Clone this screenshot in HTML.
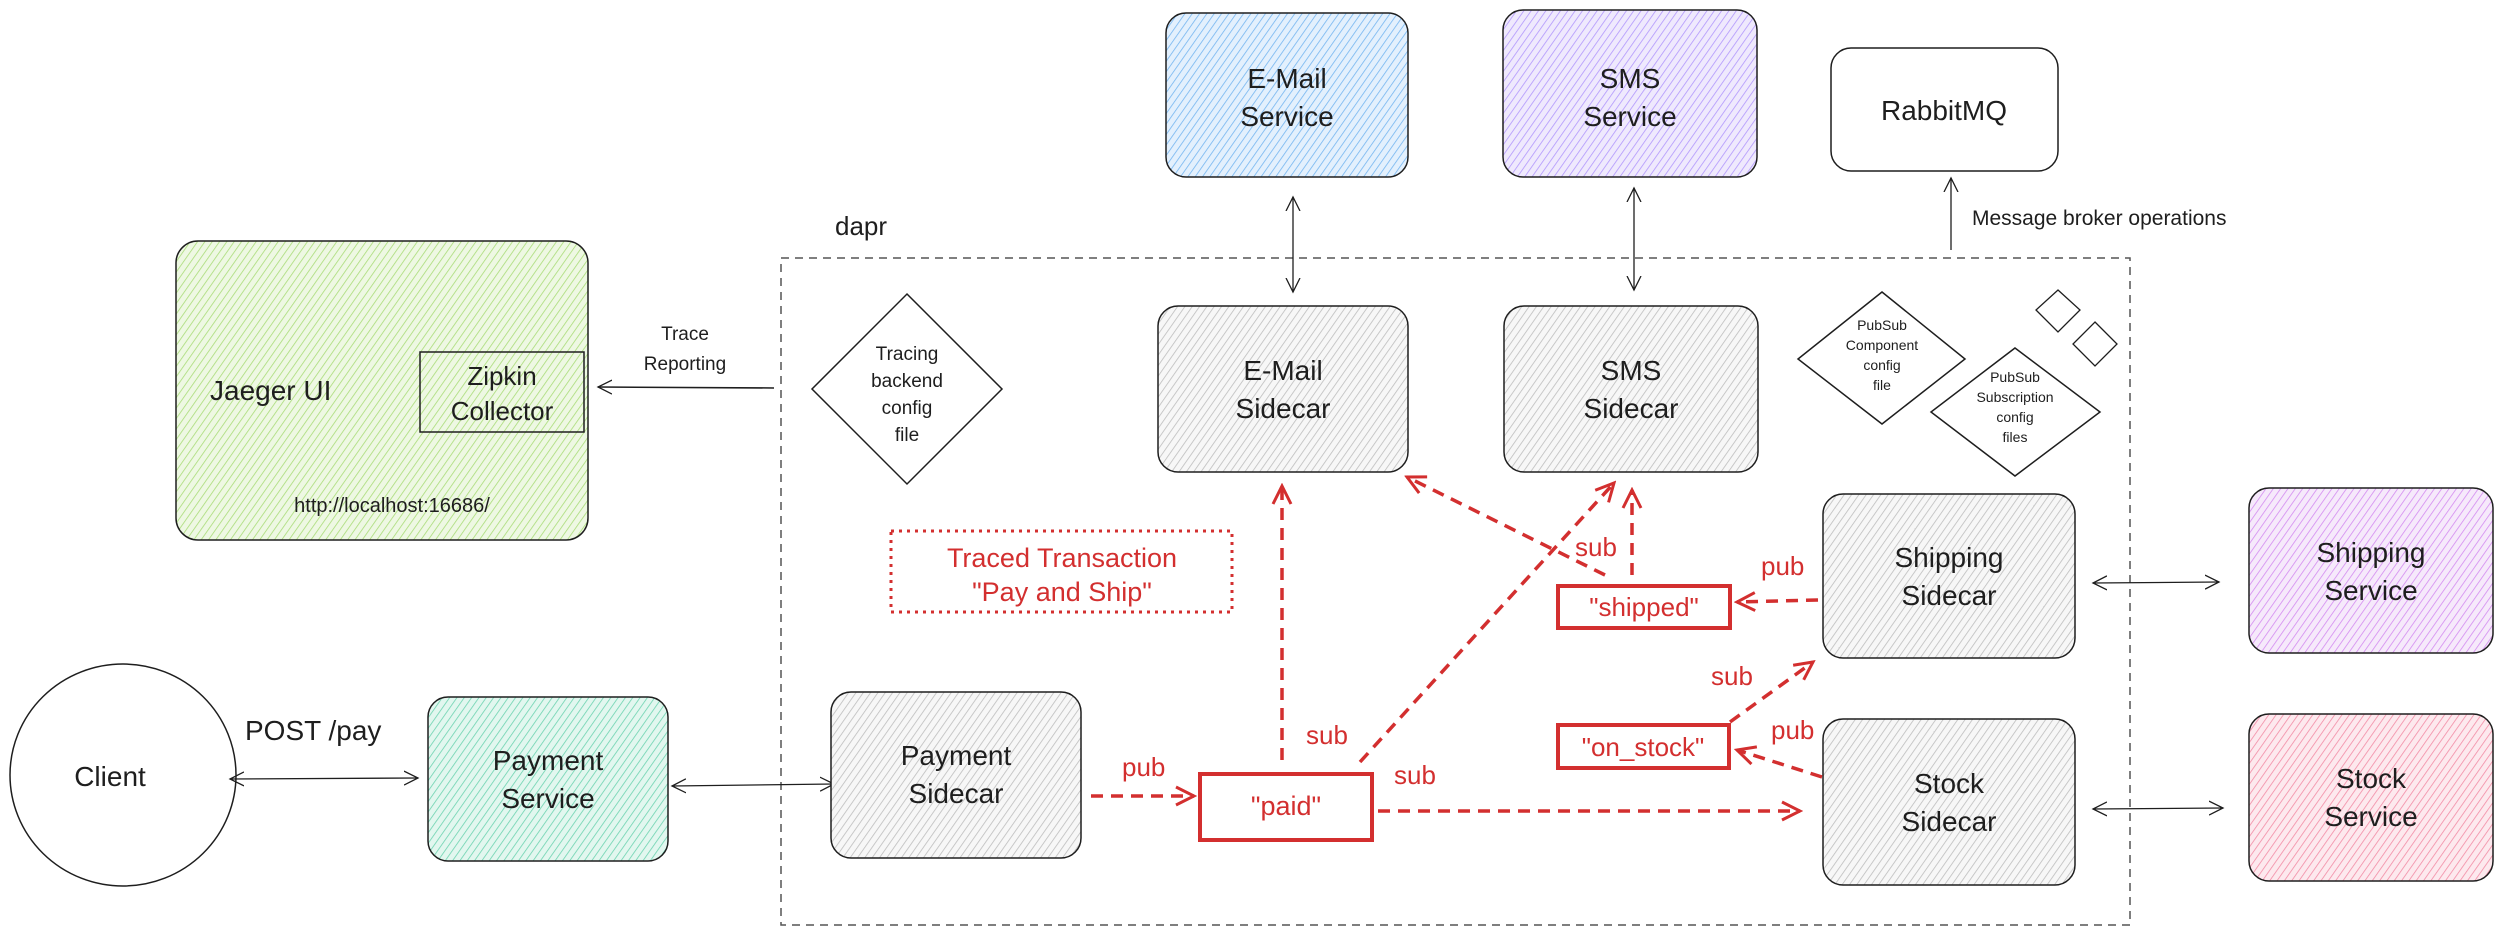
<!DOCTYPE html>
<html><head><meta charset="utf-8"><style>
html,body{margin:0;padding:0;background:#fff}
svg{display:block}
text{font-family:"Liberation Sans",sans-serif;fill:#1e1e1e}
</style></head><body>
<svg width="2500" height="933" viewBox="0 0 2500 933" xmlns="http://www.w3.org/2000/svg">
<defs>
<pattern id="hg" patternUnits="userSpaceOnUse" width="6" height="6" patternTransform="rotate(35)"><rect width="6" height="6" fill="#f7f7f7"/><line x1="0" y1="0" x2="0" y2="6" stroke="#bdbdbd" stroke-width="1.6"/></pattern>
<pattern id="hb" patternUnits="userSpaceOnUse" width="6" height="6" patternTransform="rotate(35)"><rect width="6" height="6" fill="#e3f0fd"/><line x1="0" y1="0" x2="0" y2="6" stroke="#74b5f0" stroke-width="1.6"/></pattern>
<pattern id="hp" patternUnits="userSpaceOnUse" width="6" height="6" patternTransform="rotate(35)"><rect width="6" height="6" fill="#efe9fd"/><line x1="0" y1="0" x2="0" y2="6" stroke="#b197fc" stroke-width="1.6"/></pattern>
<pattern id="hm" patternUnits="userSpaceOnUse" width="6" height="6" patternTransform="rotate(35)"><rect width="6" height="6" fill="#f6e9fb"/><line x1="0" y1="0" x2="0" y2="6" stroke="#d38bf0" stroke-width="1.6"/></pattern>
<pattern id="hk" patternUnits="userSpaceOnUse" width="6" height="6" patternTransform="rotate(35)"><rect width="6" height="6" fill="#fde9ee"/><line x1="0" y1="0" x2="0" y2="6" stroke="#f28ca5" stroke-width="1.6"/></pattern>
<pattern id="ht" patternUnits="userSpaceOnUse" width="6" height="6" patternTransform="rotate(35)"><rect width="6" height="6" fill="#e2f7ef"/><line x1="0" y1="0" x2="0" y2="6" stroke="#6cd3b0" stroke-width="1.6"/></pattern>
<pattern id="hl" patternUnits="userSpaceOnUse" width="6" height="6" patternTransform="rotate(35)"><rect width="6" height="6" fill="#eef8e3"/><line x1="0" y1="0" x2="0" y2="6" stroke="#a9dc78" stroke-width="1.6"/></pattern>
<marker id="ab" markerWidth="16" markerHeight="16" refX="14" refY="8" orient="auto-start-reverse" markerUnits="userSpaceOnUse"><path d="M0,1 L14,8 L0,15" fill="none" stroke="#1e1e1e" stroke-width="1.3"/></marker>
<marker id="ar" markerWidth="22" markerHeight="22" refX="19" refY="11" orient="auto" markerUnits="userSpaceOnUse"><path d="M1,2 L19,11 L1,20" fill="none" stroke="#d32f2f" stroke-width="3"/></marker>
</defs>

<rect x="781" y="258" width="1349" height="667" fill="none" stroke="#555" stroke-width="1.5" stroke-dasharray="8 6"/>
<text x="835" y="235" font-size="26">dapr</text>

<rect x="176" y="241" width="412" height="299" rx="22" fill="url(#hl)" stroke="#1e1e1e" stroke-width="1.5"/>
<rect x="420" y="352" width="164" height="80" fill="none" stroke="#1e1e1e" stroke-width="1.5"/>
<text x="210" y="400" font-size="28">Jaeger UI</text>
<text x="502" y="385" font-size="26" text-anchor="middle">Zipkin</text>
<text x="502" y="420" font-size="26" text-anchor="middle">Collector</text>
<text x="392" y="512" font-size="20" text-anchor="middle">http://localhost:16686/</text>
<text x="685" y="340" font-size="19" text-anchor="middle">Trace</text>
<text x="685" y="370" font-size="19" text-anchor="middle">Reporting</text>
<line x1="774" y1="388" x2="598" y2="387" stroke="#1e1e1e" stroke-width="1.5" marker-end="url(#ab)"/>

<polygon points="907,294 1002,389 907,484 812,389" fill="#fff" stroke="#1e1e1e" stroke-width="1.5"/>
<text x="907" y="360" font-size="19" text-anchor="middle">Tracing</text>
<text x="907" y="387" font-size="19" text-anchor="middle">backend</text>
<text x="907" y="414" font-size="19" text-anchor="middle">config</text>
<text x="907" y="441" font-size="19" text-anchor="middle">file</text>

<rect x="1166" y="13" width="242" height="164" rx="20" fill="url(#hb)" stroke="#1e1e1e" stroke-width="1.5"/>
<text x="1287" y="88" font-size="28" text-anchor="middle">E-Mail</text>
<text x="1287" y="126" font-size="28" text-anchor="middle">Service</text>
<rect x="1503" y="10" width="254" height="167" rx="20" fill="url(#hp)" stroke="#1e1e1e" stroke-width="1.5"/>
<text x="1630" y="88" font-size="28" text-anchor="middle">SMS</text>
<text x="1630" y="126" font-size="28" text-anchor="middle">Service</text>
<rect x="1831" y="48" width="227" height="123" rx="20" fill="#fff" stroke="#1e1e1e" stroke-width="1.5"/>
<text x="1944" y="120" font-size="28" text-anchor="middle">RabbitMQ</text>
<line x1="1951" y1="250" x2="1951" y2="178" stroke="#1e1e1e" stroke-width="1.3" marker-end="url(#ab)"/>
<text x="1972" y="225" font-size="21">Message broker operations</text>

<line x1="1293" y1="197" x2="1293" y2="292" stroke="#1e1e1e" stroke-width="1.3" marker-start="url(#ab)" marker-end="url(#ab)"/>
<line x1="1634" y1="188" x2="1634" y2="290" stroke="#1e1e1e" stroke-width="1.3" marker-start="url(#ab)" marker-end="url(#ab)"/>

<rect x="1158" y="306" width="250" height="166" rx="20" fill="url(#hg)" stroke="#1e1e1e" stroke-width="1.5"/>
<text x="1283" y="380" font-size="28" text-anchor="middle">E-Mail</text>
<text x="1283" y="418" font-size="28" text-anchor="middle">Sidecar</text>
<rect x="1504" y="306" width="254" height="166" rx="20" fill="url(#hg)" stroke="#1e1e1e" stroke-width="1.5"/>
<text x="1631" y="380" font-size="28" text-anchor="middle">SMS</text>
<text x="1631" y="418" font-size="28" text-anchor="middle">Sidecar</text>

<polygon points="1882,292 1965,359 1882,424 1798,359" fill="#fff" stroke="#1e1e1e" stroke-width="1.5"/>
<text x="1882" y="330" font-size="14" text-anchor="middle">PubSub</text>
<text x="1882" y="350" font-size="14" text-anchor="middle">Component</text>
<text x="1882" y="370" font-size="14" text-anchor="middle">config</text>
<text x="1882" y="390" font-size="14" text-anchor="middle">file</text>
<polygon points="2015,348 2100,412 2015,476 1931,412" fill="#fff" stroke="#1e1e1e" stroke-width="1.5"/>
<text x="2015" y="382" font-size="14" text-anchor="middle">PubSub</text>
<text x="2015" y="402" font-size="14" text-anchor="middle">Subscription</text>
<text x="2015" y="422" font-size="14" text-anchor="middle">config</text>
<text x="2015" y="442" font-size="14" text-anchor="middle">files</text>
<polygon points="2058,290 2080,310 2058,332 2036,310" fill="#fff" stroke="#1e1e1e" stroke-width="1.3"/>
<polygon points="2095,322 2117,344 2095,366 2073,344" fill="#fff" stroke="#1e1e1e" stroke-width="1.3"/>

<rect x="1823" y="494" width="252" height="164" rx="20" fill="url(#hg)" stroke="#1e1e1e" stroke-width="1.5"/>
<text x="1949" y="567" font-size="28" text-anchor="middle">Shipping</text>
<text x="1949" y="605" font-size="28" text-anchor="middle">Sidecar</text>
<rect x="1823" y="719" width="252" height="166" rx="20" fill="url(#hg)" stroke="#1e1e1e" stroke-width="1.5"/>
<text x="1949" y="793" font-size="28" text-anchor="middle">Stock</text>
<text x="1949" y="831" font-size="28" text-anchor="middle">Sidecar</text>
<rect x="2249" y="488" width="244" height="165" rx="20" fill="url(#hm)" stroke="#1e1e1e" stroke-width="1.5"/>
<text x="2371" y="562" font-size="28" text-anchor="middle">Shipping</text>
<text x="2371" y="600" font-size="28" text-anchor="middle">Service</text>
<rect x="2249" y="714" width="244" height="167" rx="20" fill="url(#hk)" stroke="#1e1e1e" stroke-width="1.5"/>
<text x="2371" y="788" font-size="28" text-anchor="middle">Stock</text>
<text x="2371" y="826" font-size="28" text-anchor="middle">Service</text>
<line x1="2093" y1="583" x2="2219" y2="582" stroke="#1e1e1e" stroke-width="1.3" marker-start="url(#ab)" marker-end="url(#ab)"/>
<line x1="2093" y1="809" x2="2223" y2="808" stroke="#1e1e1e" stroke-width="1.3" marker-start="url(#ab)" marker-end="url(#ab)"/>

<ellipse cx="123" cy="775" rx="113" ry="111" fill="#fff" stroke="#1e1e1e" stroke-width="1.5"/>
<text x="110" y="786" font-size="28" text-anchor="middle">Client</text>
<text x="245" y="740" font-size="28">POST /pay</text>
<line x1="230" y1="779" x2="418" y2="778" stroke="#1e1e1e" stroke-width="1.3" marker-start="url(#ab)" marker-end="url(#ab)"/>
<rect x="428" y="697" width="240" height="164" rx="20" fill="url(#ht)" stroke="#1e1e1e" stroke-width="1.5"/>
<text x="548" y="770" font-size="28" text-anchor="middle">Payment</text>
<text x="548" y="808" font-size="28" text-anchor="middle">Service</text>
<line x1="672" y1="786" x2="834" y2="784" stroke="#1e1e1e" stroke-width="1.3" marker-start="url(#ab)" marker-end="url(#ab)"/>
<rect x="831" y="692" width="250" height="166" rx="20" fill="url(#hg)" stroke="#1e1e1e" stroke-width="1.5"/>
<text x="956" y="765" font-size="28" text-anchor="middle">Payment</text>
<text x="956" y="803" font-size="28" text-anchor="middle">Sidecar</text>

<rect x="891" y="531" width="341" height="81" fill="none" stroke="#d32f2f" stroke-width="3" stroke-dasharray="3 5"/>
<text x="1062" y="567" font-size="27" text-anchor="middle" style="fill:#d32f2f">Traced Transaction</text>
<text x="1062" y="601" font-size="27" text-anchor="middle" style="fill:#d32f2f">"Pay and Ship"</text>

<rect x="1200" y="774" width="172" height="66" fill="#fff" stroke="#d32f2f" stroke-width="4"/>
<text x="1286" y="815" font-size="27" text-anchor="middle" style="fill:#d32f2f">"paid"</text>
<rect x="1558" y="586" width="172" height="42" fill="#fff" stroke="#d32f2f" stroke-width="4"/>
<text x="1644" y="616" font-size="26" text-anchor="middle" style="fill:#d32f2f">"shipped"</text>
<rect x="1558" y="725" width="171" height="43" fill="#fff" stroke="#d32f2f" stroke-width="4"/>
<text x="1643" y="756" font-size="26" text-anchor="middle" style="fill:#d32f2f">"on_stock"</text>

<g fill="none" stroke="#d32f2f" stroke-width="3.5" stroke-dasharray="12 8">
<line x1="1091" y1="796" x2="1194" y2="796" marker-end="url(#ar)"/>
<line x1="1378" y1="811" x2="1800" y2="811" marker-end="url(#ar)"/>
<line x1="1282" y1="760" x2="1282" y2="486" marker-end="url(#ar)"/>
<line x1="1360" y1="762" x2="1614" y2="483" marker-end="url(#ar)"/>
<line x1="1605" y1="575" x2="1407" y2="477" marker-end="url(#ar)"/>
<line x1="1632" y1="575" x2="1632" y2="490" marker-end="url(#ar)"/>
<line x1="1818" y1="600" x2="1737" y2="602" marker-end="url(#ar)"/>
<line x1="1730" y1="722" x2="1813" y2="662" marker-end="url(#ar)"/>
<line x1="1822" y1="777" x2="1737" y2="750" marker-end="url(#ar)"/>
</g>
<g font-size="26">
<text x="1122" y="776" style="fill:#d32f2f">pub</text>
<text x="1306" y="744" style="fill:#d32f2f">sub</text>
<text x="1394" y="784" style="fill:#d32f2f">sub</text>
<text x="1575" y="556" style="fill:#d32f2f">sub</text>
<text x="1761" y="575" style="fill:#d32f2f">pub</text>
<text x="1711" y="685" style="fill:#d32f2f">sub</text>
<text x="1771" y="739" style="fill:#d32f2f">pub</text>
</g>
</svg>
</body></html>
